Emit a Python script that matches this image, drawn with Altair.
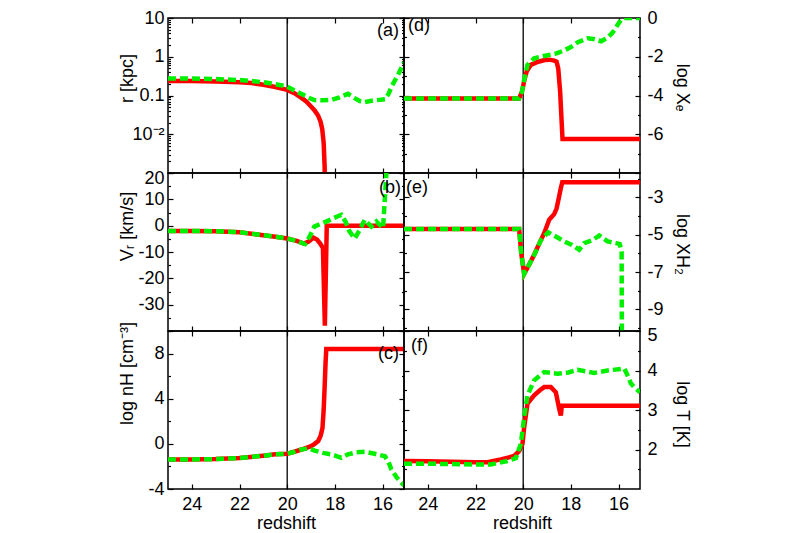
import json
import altair as alt
import pandas as pd

FONT = "Liberation Sans"
RED = "#ff0000"
GREEN = "#00f000"
W = 236
H_TOP, H = 155, 158
Z_HI, Z_LO = 25, 15.1
ZLINE = 20
XTICKS = [24, 22, 20, 18, 16]

# ---------------- data ----------------
# (a) r [kpc]
a_red_z = [25, 24, 23, 22, 21.5, 21, 20.5, 20, 19.7, 19.4, 19.2, 19.0, 18.85, 18.7, 18.6, 18.53, 18.47, 18.43, 18.40]
a_red_v = [0.238, 0.235, 0.229, 0.22, 0.21, 0.19, 0.166, 0.14, 0.115, 0.087, 0.07, 0.052, 0.041, 0.030, 0.021, 0.0135, 0.006, 0.0015, 0.0001]
a_grn_z = [25, 24, 23, 22, 21.5, 21, 20.5, 20, 19.7, 19.4, 19.1, 18.86, 18.5, 18.15, 17.8, 17.45, 17.2, 16.95, 16.75, 16.4, 15.9, 15.75, 15.6, 15.35, 15.1]
a_grn_v = [0.275, 0.273, 0.265, 0.25, 0.237, 0.22, 0.197, 0.17, 0.135, 0.11, 0.088, 0.076, 0.075, 0.077, 0.09, 0.11, 0.087, 0.072, 0.068, 0.074, 0.08, 0.11, 0.18, 0.34, 0.72]

# (b) V_r [km/s]
b_red_z = [25, 24, 23, 22, 21.5, 21, 20.5, 20, 19.6, 19.3, 19.1, 18.9, 18.75, 18.6, 18.5, 18.42, 18.34, 15.1]
b_red_v = [-2, -2, -2.1, -2.5, -3.1, -3.6, -4.2, -4.9, -5.8, -6.8, -6.0, -4.6, -5.3, -7.0, -8.5, -38, 0, 0]
b_grn_z = [25, 24, 23, 22, 21.5, 21, 20.5, 20, 19.6, 19.25, 19.05, 18.86, 18.5, 18.2, 17.9, 17.73, 17.55, 17.4, 17.17, 16.95, 16.75, 16.47, 16.26, 15.98, 15.85, 15.78]
b_grn_v = [-2, -2, -2.1, -2.5, -3.1, -3.6, -4.2, -4.9, -5.8, -7.0, -4.0, -0.3, 1.0, 2.2, 3.5, 4.1, 1.5, -2.0, -4.9, -1.5, 2.2, -0.3, 1.6, -0.9, 18, 30]

# (c) log n_H [cm^-3]
c_red_z = [25, 24, 23, 22, 21, 20.5, 20, 19.7, 19.4, 19.2, 19.0, 18.85, 18.7, 18.6, 18.52, 18.47, 18.43, 18.39, 18.36, 15.1]
c_red_v = [-1.38, -1.38, -1.35, -1.25, -1.05, -0.93, -0.88, -0.7, -0.5, -0.35, -0.2, 0.0, 0.25, 0.7, 1.4, 3.0, 5.0, 7.2, 8.4, 8.4]
c_grn_z = [25, 24, 23, 22, 21, 20.5, 20, 19.7, 19.4, 19.1, 18.85, 18.5, 18.15, 17.9, 17.73, 17.45, 17.1, 16.75, 16.33, 15.9, 15.75, 15.63, 15.4, 15.1]
c_grn_v = [-1.38, -1.38, -1.35, -1.25, -1.05, -0.93, -0.88, -0.7, -0.5, -0.4, -0.6, -0.8, -0.93, -1.1, -1.23, -0.93, -0.75, -0.7, -0.88, -1.1, -1.6, -2.26, -3.0, -3.7]

# (d) log X_e
d_red_z = [25, 20.17, 20.05, 19.95, 19.85, 19.68, 19.4, 19.1, 18.9, 18.7, 18.6, 18.53, 18.45, 18.35, 15.1]
d_red_v = [-4.15, -4.15, -3.8, -3.2, -2.75, -2.42, -2.27, -2.17, -2.15, -2.2, -2.25, -2.6, -3.8, -6.25, -6.25]
d_grn_z = [25, 20.17, 20.05, 19.96, 19.82, 19.54, 19.2, 18.97, 18.6, 18.28, 18.0, 17.71, 17.29, 17.0, 16.73, 16.5, 16.31, 16.15, 16.03, 15.9, 15.76, 15.1]
d_grn_v = [-4.15, -4.15, -3.8, -3.2, -2.42, -2.08, -1.98, -1.92, -1.83, -1.67, -1.5, -1.25, -1.05, -1.1, -1.2, -1.05, -0.83, -0.6, -0.33, -0.1, 0, 0]

# (e) log X_H2
e_red_z = [25, 20.17, 20.08, 19.96, 19.75, 19.54, 19.3, 19.12, 18.91, 18.7, 18.6, 18.5, 18.42, 18.36, 15.1]
e_red_v = [-4.7, -4.7, -6.0, -7.1, -6.6, -6.07, -5.4, -4.92, -4.2, -3.9, -3.6, -3.0, -2.5, -2.2, -2.2]
e_grn_z = [25, 20.17, 20.08, 19.96, 19.75, 19.54, 19.26, 18.95, 18.7, 18.28, 17.95, 17.65, 17.44, 17.1, 16.81, 16.46, 16.1, 15.95, 15.87, 15.86]
e_grn_v = [-4.7, -4.7, -6.0, -7.1, -6.6, -6.1, -5.3, -4.87, -5.05, -5.36, -5.55, -5.8, -5.45, -5.3, -5.04, -5.36, -5.45, -5.5, -5.9, -11]

# (f) log T [K]
f_red_z = [25, 24, 23, 22, 21.5, 20.94, 20.6, 20.38, 20.17, 20.03, 19.96, 19.82, 19.54, 19.3, 19.12, 18.84, 18.63, 18.49, 18.42, 18.38, 15.1]
f_red_v = [1.71, 1.70, 1.69, 1.68, 1.68, 1.75, 1.8, 1.84, 1.96, 2.14, 2.56, 3.16, 3.37, 3.5, 3.58, 3.58, 3.45, 3.03, 2.86, 3.11, 3.11]
f_grn_z = [25, 24, 23, 22, 21.36, 20.66, 20.31, 20.1, 19.96, 19.82, 19.54, 19.12, 18.56, 18.1, 17.72, 17.4, 17.02, 16.46, 15.76, 15.6, 15.48, 15.3, 15.1]
f_grn_v = [1.64, 1.64, 1.63, 1.62, 1.62, 1.71, 1.78, 2.14, 2.81, 3.37, 3.75, 3.96, 3.92, 3.95, 4.02, 3.98, 3.94, 4.0, 4.05, 3.85, 3.67, 3.55, 3.45]


def tick_size(majors):
    return {"condition": {"test": "indexof(%s, datum.value) >= 0" % json.dumps(majors), "value": 5},
            "value": 2.5}


def x_tick_axis(orient, h):
    return alt.Axis(orient=orient, offset=-h, values=XTICKS, labels=False, domain=False,
                    grid=False, title=None, ticks=True, tickSize=5, tickColor="black", tickWidth=1.2)


def y_tick_axis(orient, majors, minors):
    return alt.Axis(orient=orient, offset=-W, values=sorted(majors + minors), labels=False,
                    domain=False, grid=False, title=None, ticks=True, tickColor="black",
                    tickWidth=1.2, tickSize=tick_size(majors))


def panel(zr, vr, zg, vg, ydom, ylog, side, majors, minors, labels, title, title_y,
          tag, tag_x, tag_y, bottom, h=H, label_expr="toString(datum.value)", flush_offset=None):
    xs = alt.Scale(domain=[Z_HI, Z_LO], nice=False, zero=False)
    ys = alt.Scale(domain=ydom, type="log" if ylog else "linear", nice=False, zero=False)
    left = side == "left"

    ymain = dict(orient=side, values=labels, labelExpr=label_expr, ticks=False, tickSize=0,
                 domain=False, grid=False, title=title, titleX=-41 if left else 41,
                 titleY=title_y, titleAngle=270 if left else 90, titleBaseline="middle",
                 titleAlign="center", labelPadding=4 if left else 7, labelFontSize=18,
                 titleFontSize=18)
    if flush_offset is not None:
        ymain.update(labelFlush=True, labelFlushOffset=flush_offset)

    if bottom:
        xmain = alt.Axis(orient="bottom", values=XTICKS, labelExpr="toString(datum.value)",
                         ticks=False, tickSize=0, domain=False, grid=False, title="redshift",
                         titlePadding=1, labelPadding=6, labelFontSize=18, titleFontSize=18,
                         labelFlush=False)
    else:
        xmain = None

    rule = alt.Chart(pd.DataFrame({"z": [ZLINE]})).mark_rule(
        color="black", strokeWidth=1.3).encode(
        x=alt.X("z:Q", scale=xs, axis=xmain),
        y=alt.datum(ydom[0], scale=ys, axis=y_tick_axis("left", majors, minors)),
        y2=alt.datum(ydom[1]),
    )
    red = alt.Chart(pd.DataFrame({"z": zr, "v": vr})).mark_line(
        color=RED, strokeWidth=4.5, clip=True).encode(
        x=alt.X("z:Q", scale=xs, axis=x_tick_axis("bottom", h)),
        y=alt.Y("v:Q", scale=ys, axis=alt.Axis(**ymain)),
        order=alt.Order("idx:Q"),
    ).transform_window(idx="row_number()")
    green = alt.Chart(pd.DataFrame({"z": zg, "v": vg})).mark_line(
        color=GREEN, strokeWidth=4.5, strokeDash=[8, 4], clip=True).encode(
        x=alt.X("z:Q", scale=xs, axis=x_tick_axis("top", h)),
        y=alt.Y("v:Q", scale=ys, axis=y_tick_axis("right", majors, minors)),
        order=alt.Order("idx:Q"),
    ).transform_window(idx="row_number()")
    text = alt.Chart(pd.DataFrame({"t": [tag]})).mark_text(
        align="right" if left else "left", baseline="middle", fontSize=18, font=FONT,
        color="black").encode(x=alt.value(tag_x), y=alt.value(tag_y), text="t:N")

    return alt.layer(rule, red, green, text).resolve_axis(
        x="independent", y="independent").properties(width=W, height=h)


pa = panel(a_red_z, a_red_v, a_grn_z, a_grn_v, [0.001, 10], True, "left",
           [0.001, 0.01, 0.1, 1, 10],
           [m * d for d in [0.001, 0.01, 0.1, 1] for m in range(2, 10)],
           [10, 1, 0.1, 0.01], "r [kpc]", 60, "(a)", 231, 13, False, h=H_TOP,
           label_expr="datum.value < 0.05 ? '10⁻²' : toString(datum.value)")
pd_ = panel(d_red_z, d_red_v, d_grn_z, d_grn_v, [-8, 0], False, "right",
            [0, -2, -4, -6, -8], [-1, -3, -5, -7],
            [0, -2, -4, -6], "log Xₑ", 69, "(d)", 4, 8, False, h=H_TOP)
pb = panel(b_red_z, b_red_v, b_grn_z, b_grn_v, [-40, 20], False, "left",
           [20, 10, 0, -10, -20, -30, -40], [15, 5, -5, -15, -25, -35],
           [20, 10, 0, -10, -20, -30], "Vᵣ [km/s]", 53, "(b)", 233, 15, False,
           flush_offset=4)
pe = panel(e_red_z, e_red_v, e_grn_z, e_grn_v, [-10.15, -1.7], False, "right",
           [-3, -5, -7, -9], [-2, -4, -6, -8, -10],
           [-3, -5, -7, -9], "log XH₂", 71, "(e)", 2, 15, False)
pc = panel(c_red_z, c_red_v, c_grn_z, c_grn_v, [-4, 10], False, "left",
           [-4, 0, 4, 8], [-2, 2, 6, 10],
           [8, 4, 0, -4], "log nH [cm⁻³]", 42, "(c)", 231, 23, True)
pf = panel(f_red_z, f_red_v, f_grn_z, f_grn_v, [1, 5], False, "right",
           [2, 3, 4, 5], [1.5, 2.5, 3.5, 4.5],
           [5, 4, 3, 2], "log T [K]", 83, "(f)", 7, 15, True, flush_offset=5)

chart = alt.concat(pa, pd_, pb, pe, pc, pf, columns=2, spacing=0, bounds="flush").properties(
    padding={"left": 109, "top": 0, "right": 5, "bottom": 0}
).configure_view(stroke="black", strokeWidth=1.5).configure_axis(
    labelFont=FONT, titleFont=FONT, labelColor="black", titleColor="black",
    titleFontWeight="normal"
).configure_text(font=FONT)

chart.save("out.html", embed_options={"renderer": "svg", "actions": False})
